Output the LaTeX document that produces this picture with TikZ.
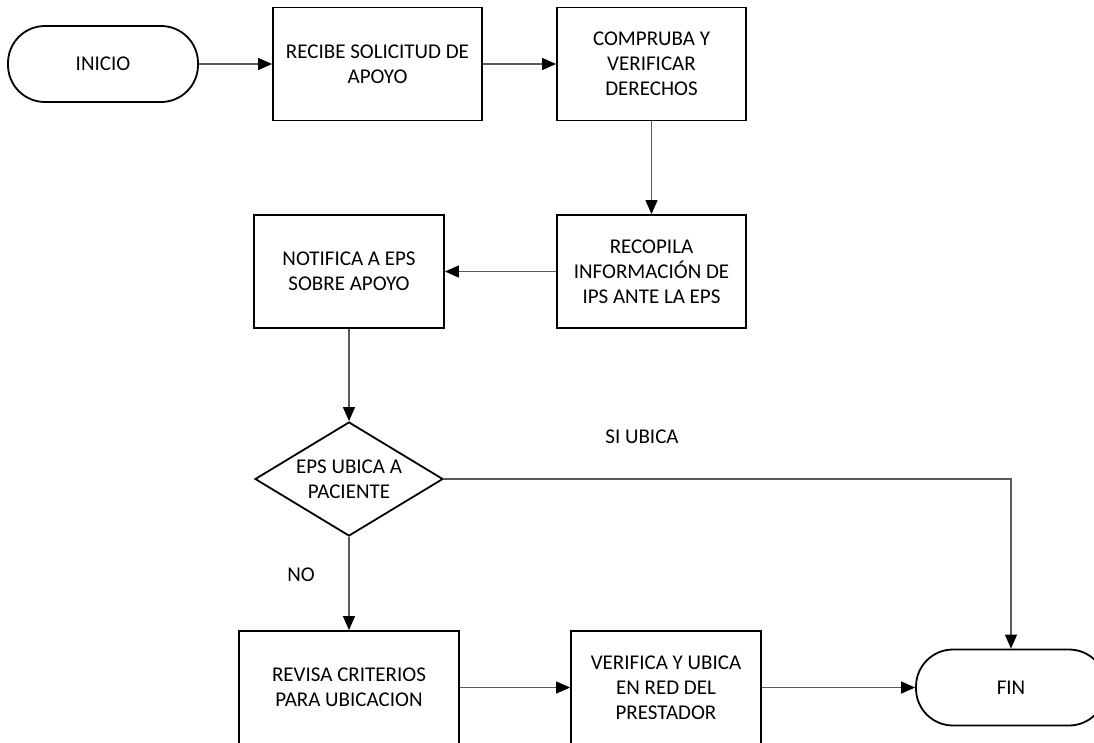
\documentclass[tikz,border=0pt]{standalone}
\usepackage{fontspec}
\setmainfont{Carlito}
\usepackage{tikz}
\usetikzlibrary{arrows.meta}
\usetikzlibrary{shapes.geometric}

\begin{document}
\begin{tikzpicture}[x=1pt, y=1pt,
			process/.style={draw, line width=1.8pt, rectangle, minimum height=113pt, inner sep=4pt},
			terminal/.style={draw, line width=1.8pt, rectangle, rounded corners=37pt, minimum width=190pt, minimum height=76pt},
			decision/.style={draw, line width=1.8pt, diamond, minimum width=188pt, minimum height=114pt, inner sep=0pt},
			flow/.style={draw=black!65, line width=1.2pt},
			>={Triangle[length=14pt, width=12pt, color=black]},
			every node/.style={font=\fontsize{21}{25}\selectfont},
			every text node part/.style={align=center}]
			\useasboundingbox (0, 0) rectangle (1094, -742);
			
			\node[terminal](node1) at (103, -64) {INICIO};
			
			\node[process, minimum width=209pt](node2) at (377.5, -64) {RECIBE SOLICITUD DE \\ APOYO};
			\draw[flow, ->] (node1) -- (node2);
			
			\node[process, minimum width=189pt](node3) at (651.5, -64) {COMPRUBA Y \\ VERIFICAR \\ DERECHOS};
			\draw[flow, ->] (node2) -- (node3);
			
			\node[process, minimum width=189pt](node4) at (651.5, -271.5) {RECOPILA \\ INFORMACIÓN DE \\ IPS ANTE LA EPS};
			\draw[flow, ->] (node3) -- (node4);
			
			\node[process, minimum width=190pt](node5) at (349, -271.5) {NOTIFICA A EPS \\ SOBRE APOYO};
			\draw[flow, ->] (node4) -- (node5);
			
			\node[decision, label=center:{EPS UBICA A \\ PACIENTE}](node6) at (349, -479) {};
			\draw[flow, ->] (node5) -- (node6);
			
			\node[process, minimum width=220pt](node7) at (349, -687.5) {REVISA CRITERIOS \\ PARA UBICACION};
			\draw[flow, ->] (node6) -- (node7);
			\node(no) at (301, -575) {NO};
			
			\node[process, minimum width=190pt](node8) at (666, -687.5) {VERIFICA Y UBICA \\ EN RED DEL \\ PRESTADOR};
			\draw[flow, ->] (node7) -- (node8);
			
			\node[terminal](node9) at (1011, -687.5) {FIN};
			\draw[flow, ->] (node8) -- (node9);
			\draw[flow, ->] (node6.east) -| (node9.north);
			\node(si) at (642, -437) {SI UBICA};
			\end{tikzpicture}
\end{document}
